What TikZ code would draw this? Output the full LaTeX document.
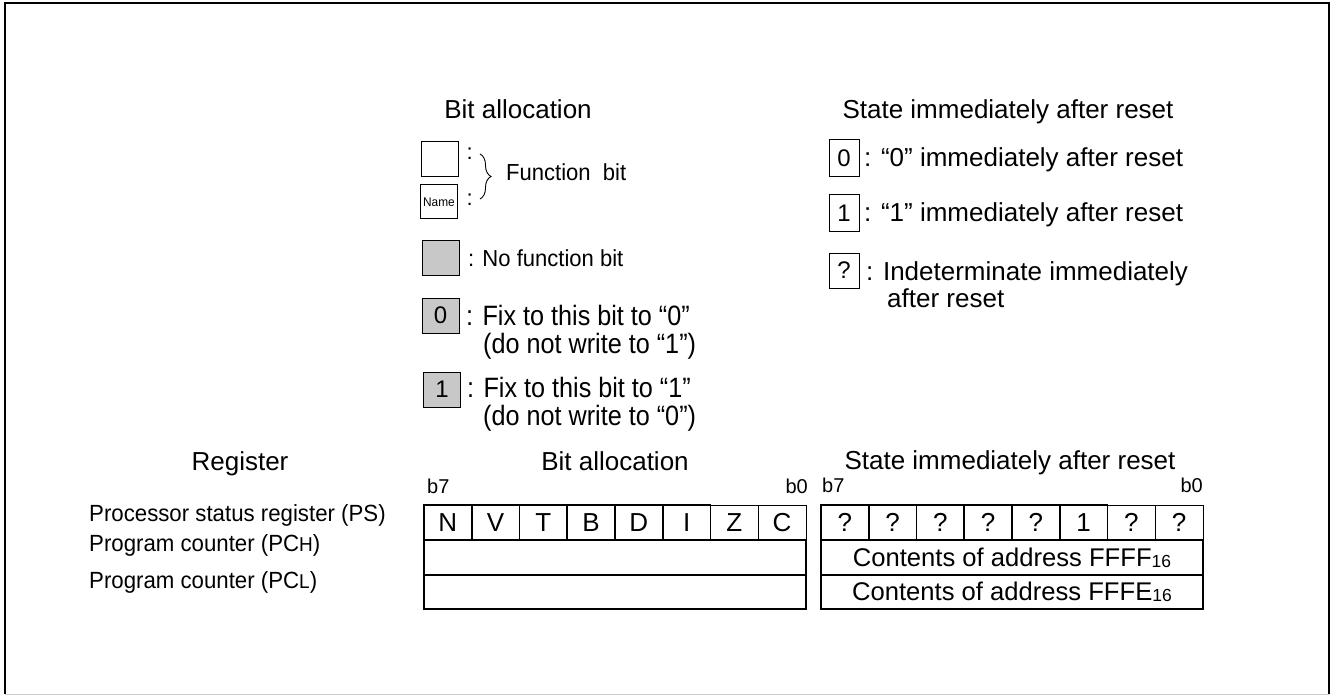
\documentclass[tikz,border=0pt]{standalone}
\usepackage{fontspec}
\setmainfont{Liberation Sans}
\newfontfamily\narrowA[FakeStretch=0.9]{Liberation Sans}
\newfontfamily\narrowB[FakeStretch=0.95]{Liberation Sans}
\usetikzlibrary{decorations.pathreplacing}
\newcommand{\fsz}[1]{\fontsize{#1}{#1}\selectfont}
\definecolor{boxgray}{RGB}{200,200,200}
\definecolor{framegray}{RGB}{205,205,205}
\begin{document}
\begin{tikzpicture}[x=1pt,y=-1pt,
  txt/.style={inner sep=0pt, anchor=base west},
  txte/.style={inner sep=0pt, anchor=base east},
  hd/.style={inner sep=0pt, anchor=base, font=\fsz{26}},
  fixtxt/.style={txt, font=\narrowA\fsz{28}},
  lbox/.style={draw, line width=1pt, minimum width=37pt, minimum height=35pt, inner sep=0pt, font=\fsz{24}},
  gbox/.style={lbox, fill=boxgray},
  rbox/.style={draw, line width=1pt, minimum width=30pt, minimum height=36pt, inner sep=0pt, font=\fsz{24}},
  cell/.style={draw, line width=0.9pt, minimum width=47.75pt, minimum height=35pt, inner sep=0pt, font=\fsz{26}},
  cellk/.style={cell, line width=1.6pt},
  wide/.style={draw, line width=1.4pt, minimum width=382pt, minimum height=35pt, inner sep=0pt, font=\fsz{25.6}},
]
\useasboundingbox (0,0) rectangle (1333,695);
% frame
\coordinate (f1) at (5,694);
\coordinate (f2) at (5,3);
\coordinate (f3) at (1329,3);
\coordinate (f4) at (1329,694);
\draw[framegray, line width=1pt] (f1) -- (f4);
\draw[line width=2pt] (f1) -- (f2) -- (f3) -- (f4);

% ---------- legend: bit allocation ----------
\node[hd] (lgh1) at (518,119) {Bit allocation};
\node[lbox] (fb1) at (439.5,159.5) {};
\node[lbox, minimum height=34pt, font=\narrowB\fsz{12.5}] (fb2) at (439,202) {Name};
\node[txt, font=\fsz{22}] (c1) at (466.5,160) {:};
\node[txt, font=\fsz{22}] (c2) at (466.5,206) {:};
\coordinate (bt) at (480,154);
\coordinate (bb) at (480,199);
\draw[decorate, decoration={brace, amplitude=11pt}, line width=0.9pt] (bt) -- (bb);
\node[txt, font=\narrowB\fsz{23.2}] (fbt) at (506,181) {Function\ \ bit};

\node[gbox] (nf) at (440.5,257.5) {};
\node[txt, font=\narrowB\fsz{23.2}] (nft) at (468,266) {: No function bit};

\node[gbox] (fx0) at (440.5,315.5) {0};
\node[fixtxt] (fx0a) at (466,325) {: Fix to this bit to “0”};
\node[fixtxt] (fx0b) at (483,353) {(do not write to “1”)};

\node[gbox] (fx1) at (442,389.5) {1};
\node[fixtxt] (fx1a) at (467,397) {: Fix to this bit to “1”};
\node[fixtxt] (fx1b) at (483,425) {(do not write to “0”)};

% ---------- legend: state after reset ----------
\node[hd] (lgh2) at (1008,119) {State immediately after reset};
\node[rbox, minimum height=37pt] (r0) at (844,158.5) {0};
\node[txt, font=\fsz{26}] (r0t) at (864,167) {: “0” immediately after reset};
\node[rbox, minimum height=37pt] (r1) at (844,213.5) {1};
\node[txt, font=\fsz{26}] (r1t) at (864,222) {: “1” immediately after reset};
\node[rbox, minimum height=35pt] (rq) at (844,270.5) {?};
\node[txt, font=\fsz{26}] (rqt) at (866,280) {: Indeterminate immediately};
\node[txt, font=\fsz{26}] (rqt2) at (887,307) {after reset};

% ---------- register table ----------
\node[hd] (hreg) at (240,470) {Register};
\node[hd] (hbit) at (615,470) {Bit allocation};
\node[hd] (hst) at (1010,469) {State immediately after reset};

\node[txt, font=\narrowB\fsz{23.4}] (ps) at (89,521) {Processor status register (PS)};
\node[txt, font=\narrowB\fsz{23.4}] (pch) at (89,551) {Program counter (PC{\fsz{20}H})};
\node[txt, font=\narrowB\fsz{23.4}] (pcl) at (89,588) {Program counter (PC{\fsz{20}L})};

\node[txt, font=\fsz{20}] (lb7) at (427,493) {b7};
\node[txte, font=\fsz{20}] (lb0) at (808,493) {b0};
\node[txt, font=\fsz{20}] (rb7) at (822,492) {b7};
\node[txte, font=\fsz{20}] (rb0) at (1203,492) {b0};

% left table
\foreach \t [count=\i from 0] in {N,V,T,B,D,I}
  \node[cellk] (a\i) at ({424+47.75*(\i+0.5)},522.5) {\t};
\node[cell] (a6) at ({424+47.75*6.5},522.5) {Z};
\node[cell] (a7) at ({424+47.75*7.5},522.5) {C};
\node[wide] (ah) at (615,557.5) {};
\node[wide, minimum height=34pt] (al) at (615,592) {};

% right table
\foreach \t [count=\i from 0] in {?,?,?,?,?,1}
  \node[cellk] (b\i) at ({821+47.75*(\i+0.5)},522.5) {\t};
\node[cell] (b6) at ({821+47.75*6.5},522.5) {?};
\node[cell] (b7) at ({821+47.75*7.5},522.5) {?};
\node[wide] (bh) at (1012,557.5) {Contents of address FFFF{\fsz{17.5}\raisebox{-1pt}{16}}};
\node[wide, minimum height=34pt] (bl) at (1012,592) {Contents of address FFFE{\fsz{17.5}\raisebox{-1pt}{16}}};
\end{tikzpicture}
\end{document}
